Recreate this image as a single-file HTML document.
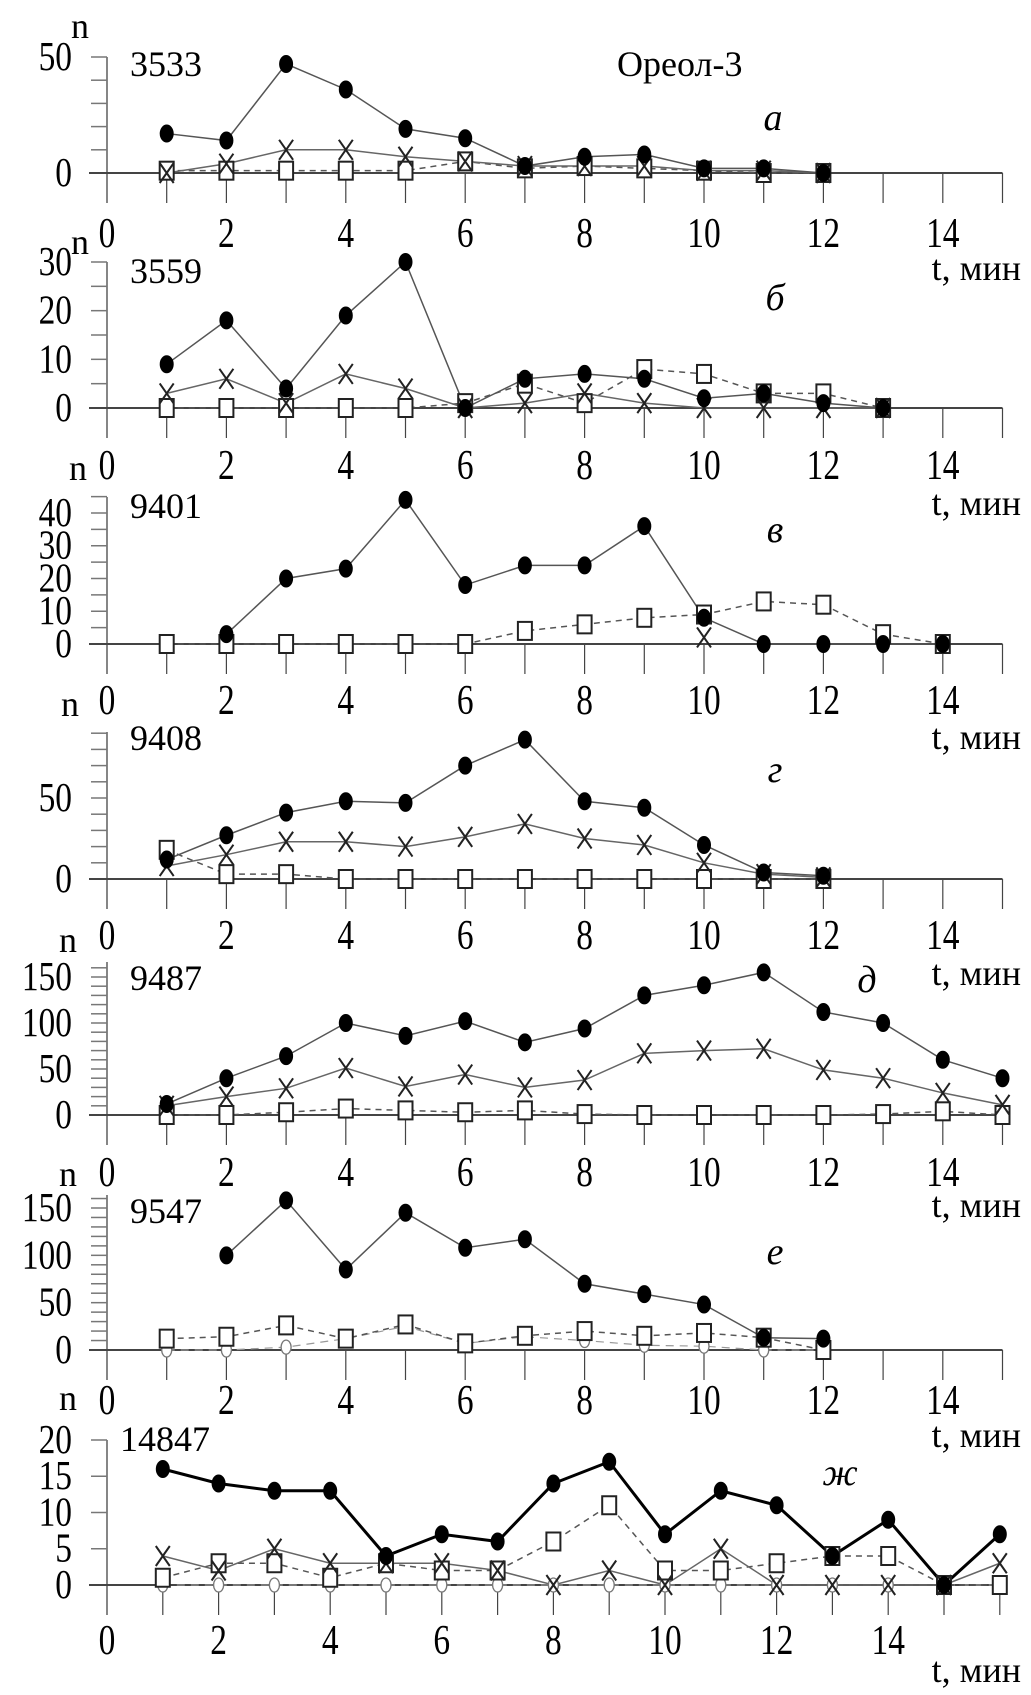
<!DOCTYPE html>
<html><head><meta charset="utf-8"><style>
html,body{margin:0;padding:0;background:#fff}
svg{display:block}
text{font-family:"Liberation Serif",serif;fill:#000}
</style></head><body>
<svg id="c" width="1031" height="1695" viewBox="0 0 1031 1695" xmlns="http://www.w3.org/2000/svg"></svg>
<script>
const panelIds = ["3533","3559","9401","9408","9487","9547","14847"];
const panelLetters = ["а","б","в","г","д","е","ж"];
const yTickLabels = [[0,50],[0,10,20,30],[0,10,20,30,40],[0,50],[0,50,100,150],[0,50,100,150],[0,5,10,15,20]];
const xTickLabels = [0,2,4,6,8,10,12,14];
const dotsA=[17,14,47,36,19,15,3,7,8,2,2,0];
const crossA=[0,4,10,10,7,5,3,3,3,1,1,0];
const sqA=[1,1,1,1,1,5,2,3,2,1,0,0];
const dotsB=[9,18,4,19,30,0,6,7,6,2,3,1,0];
const crossB=[3,6,1,7,4,0,1,3,1,0,0,0,0];
const sqB=[0,0,0,0,0,1,5,1,8,7,3,3,0];
const dotsV=[null,3,20,23,44,18,24,24,36,8,0,0,0,0];
const crossV=[null,null,null,null,null,null,null,null,null,2,null,null,null,null];
const sqV=[0,0,0,0,0,0,4,6,8,9,13,12,3,0];
const dotsG=[12,27,41,48,47,70,86,48,44,21,4,2];
const crossG=[8,15,23,23,20,26,34,25,21,10,3,1];
const sqG=[18,3,3,0,0,0,0,0,0,0,0,0];
const dotsD=[12,40,64,100,86,102,79,94,130,141,155,112,100,60,40];
const crossD=[10,20,29,51,31,44,30,38,67,70,72,49,40,24,11];
const sqD=[0,0,3,7,5,3,5,1,0,0,0,0,1,4,0];
const dotsE=[null,100,158,85,145,108,117,70,59,48,13,12];
const sqE=[12,14,26,12,27,7,15,20,15,18,13,0];
const circE=[0,0,3,12,25,7,14,10,5,4,0,0];
const dotsZ=[16,14,13,13,4,7,6,14,17,7,13,11,4,9,0,7];
const crossZ=[4,2,5,3,3,3,2,0,2,0,5,0,0,0,0,3];
const sqZ=[1,3,3,1,3,2,2,6,11,2,2,3,4,4,0,0];
const circZ=[0,0,0,0,0,0,0,0,0,0,0,0,0,0,0,0];

// layout (not data)
const P=[
 {zero:173,top:57,refY:57,minor:10,lab:233,tm:268,nx:80,ny:38,id:[130,63],let:[773,118],xmax:15,pxu:59.7,seriesDots:dotsA,seriesX:crossA,seriesSq:sqA,extra:[[617,63,"Ореол-3"]]},
 {zero:408,top:262,refY:262,minor:5,lab:465,tm:503,nx:80,ny:254,id:[130,270],let:[775,298],xmax:15,pxu:59.7,seriesDots:dotsB,seriesX:crossB,seriesSq:sqB},
 {zero:644,top:497,refY:513,minor:5,lab:700,tm:737,nx:78,ny:480,id:[130,505],let:[775,530],xmax:15,pxu:59.7,seriesDots:dotsV,seriesX:crossV,seriesSq:sqV},
 {zero:879,top:732,refY:798,minor:10,lab:935,tm:973,nx:70,ny:716,id:[130,737],let:[775,770],xmax:15,pxu:59.7,seriesDots:dotsG,seriesX:crossG,seriesSq:sqG},
 {zero:1115,top:962,refY:977,minor:10,lab:1172,tm:1205,nx:68,ny:952,id:[130,977],let:[867,980],xmax:15,pxu:59.7,seriesDots:dotsD,seriesX:crossD,seriesSq:sqD},
 {zero:1350,top:1195,refY:1208,minor:10,lab:1400,tm:1435,nx:68,ny:1186,id:[130,1210],let:[775,1252],xmax:15,pxu:59.7,seriesDots:dotsE,seriesSq:sqE,seriesC:circE},
 {zero:1585,top:1440,refY:1440,minor:5,lab:1640,tm:1670,nx:68,ny:1410,id:[120,1438],let:[840,1473],xmax:16,pxu:55.8,seriesDots:dotsZ,seriesX:crossZ,seriesSq:sqZ,seriesC:circZ,bold:true}
];
const svg=document.getElementById('c');
const NS="http://www.w3.org/2000/svg";
function el(t,a,p){const e=document.createElementNS(NS,t);for(const k in a)e.setAttribute(k,a[k]);(p||svg).appendChild(e);return e;}
const X0=107;
P.forEach((p,i)=>{
  const g=el('g',{});
  
  
  const labs=yTickLabels[i];
  const refV=labs[labs.length-1];
  const sc=(p.zero-p.refY)/refV;
  const xs=t=>X0+t*p.pxu, ys=v=>p.zero-v*sc;
  const topV=(p.zero-p.top)/sc;
  const ya=el('line',{x1:X0,y1:p.top,x2:X0,y2:p.zero+30,stroke:'#444','stroke-width':1.3},g);
  
  
  const xa=el('line',{x1:X0-18,y1:p.zero,x2:X0+p.xmax*p.pxu,y2:p.zero,stroke:'#444','stroke-width':2},g);
  
  
  for(let t=1;t<=p.xmax;t++) el('line',{x1:xs(t),y1:p.zero,x2:xs(t),y2:p.zero+30,stroke:'#444','stroke-width':1.2},g);
  for(let v=p.minor;v<=topV+0.5;v+=p.minor) el('line',{x1:X0-16,y1:ys(v),x2:X0,y2:ys(v),stroke:'#777','stroke-width':1.5},g);
  labs.forEach(v=>{const cx=72,cy=ys(v)+13;const tx=el('text',{x:cx,y:cy,'font-size':38,'text-anchor':'end',transform:`translate(${cx} ${cy}) scale(0.88 1.08) translate(${-cx} ${-cy})`},g);tx.textContent=v;});
  xTickLabels.forEach(v=>{const cx=xs(v),cy=p.lab+14;const tx=el('text',{x:cx,y:cy,'font-size':38,'text-anchor':'middle',transform:`translate(${cx} ${cy}) scale(0.88 1.12) translate(${-cx} ${-cy})`},g);tx.textContent=v;});
  const tm=el('text',{x:1021,y:p.tm+12,'font-size':36,'text-anchor':'end'},g);tm.textContent='t, мин';
  
  const n=el('text',{x:p.nx,y:p.ny,'font-size':36,'text-anchor':'middle'},g);n.textContent='n';
  
  const idt=el('text',{x:p.id[0],y:p.id[1]+13,'font-size':36},g);idt.textContent=panelIds[i];
  
  const lt=el('text',{x:p.let[0],y:p.let[1]+12,'font-size':38,'font-style':'italic','text-anchor':'middle'},g);lt.textContent=panelLetters[i];
  
  (p.extra||[]).forEach(e=>{const t=el('text',{x:e[0],y:e[1]+13,'font-size':36},g);t.textContent=e[2];});
  function path(arr,attrs,name){let d='',pen=false;arr.forEach((v,k)=>{if(v==null){pen=false;return;}d+=(pen?'L':'M')+xs(k+1)+' '+ys(v)+' ';pen=true;});if(!d)return;const pa=el('path',Object.assign({d:d,fill:'none'},attrs),g);}
  if(p.seriesC) path(p.seriesC,{stroke:'#999','stroke-width':1.2,'stroke-dasharray':'8 6'},'series-circle-line');
  if(p.seriesSq) path(p.seriesSq,{stroke:'#555','stroke-width':1.5,'stroke-dasharray':'6 5'},'series-square-line');
  if(p.seriesX) path(p.seriesX,{stroke:'#666','stroke-width':1.5},'series-cross-line');
  path(p.seriesDots,{stroke:p.bold?'#000':'#555','stroke-width':p.bold?3:1.5},'series-dot-line');
  if(p.seriesC) p.seriesC.forEach((v,k)=>{if(v==null)return;const m=el('ellipse',{cx:xs(k+1),cy:ys(v),rx:5,ry:7,fill:'#fff',stroke:'#777','stroke-width':1.3},g);});
  if(p.seriesSq) p.seriesSq.forEach((v,k)=>{if(v==null)return;const m=el('rect',{x:xs(k+1)-7,y:ys(v)-9,width:14,height:18,fill:'#fff',stroke:'#222','stroke-width':2},g);});
  if(p.seriesX) p.seriesX.forEach((v,k)=>{if(v==null)return;const x=xs(k+1),y=ys(v);const m=el('path',{d:`M${x-7} ${y-10}L${x+7} ${y+10}M${x+7} ${y-10}L${x-7} ${y+10}`,stroke:'#222','stroke-width':2,fill:'none'},g);});
  p.seriesDots.forEach((v,k)=>{if(v==null)return;const m=el('ellipse',{cx:xs(k+1),cy:ys(v),rx:7,ry:9,fill:'#000'},g);});
});
</script>
</body></html>
